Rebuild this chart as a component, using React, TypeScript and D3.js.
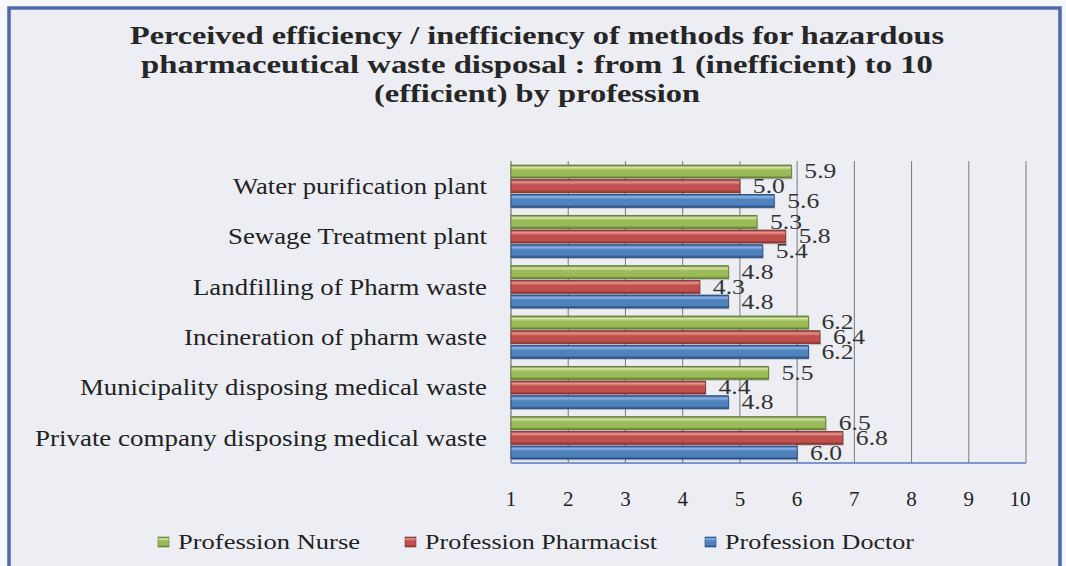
import React from 'react';
import * as d3 from 'd3';

const categories = [
  'Water purification plant',
  'Sewage Treatment plant',
  'Landfilling of Pharm waste',
  'Incineration of pharm waste',
  'Municipality disposing medical waste',
  'Private company disposing medical waste',
];
const seriesNames = ['Profession Nurse', 'Profession Pharmacist', 'Profession Doctor'];
const nurse = [5.9, 5.3, 4.8, 6.2, 5.5, 6.5];
const pharmacist = [5.0, 5.8, 4.3, 6.4, 4.4, 6.8];
const doctor = [5.6, 5.4, 4.8, 6.2, 4.8, 6.0];
const ticks = [1, 2, 3, 4, 5, 6, 7, 8, 9, 10];
const titleLines = [
  'Perceived efficiency / inefficiency of methods for hazardous',
  'pharmaceutical waste disposal : from 1 (inefficient) to  10',
  '(efficient) by profession',
];

const values = [nurse, pharmacist, doctor];
// [light, base, dark] per series
const colors = [
  ['#d6e6a6', '#9bbb59', '#5f7a2a'],
  ['#e8958f', '#c0504d', '#82302d'],
  ['#8fb4e6', '#4f81bd', '#23497f'],
];

const W = 1066, H = 566;
const font = "'Liberation Serif', 'DejaVu Serif', serif";

const titleW = [814, 792, 326];
const catW = [254, 259, 294, 303, 407, 452];
const legendW = [182, 232, 189];
const legendX = [158, 405, 705];

export default function App() {
  const x = d3.scaleLinear().domain([1, 10]).range([511, 1026]);
  const y = d3.scaleBand<string>().domain(categories).range([161, 463])
    .paddingInner(0.16).paddingOuter(0.08);
  const yi = d3.scaleBand<string>().domain(seriesNames).range([0, y.bandwidth()])
    .paddingInner(0.12);

  return (
    <svg width={W} height={H} style={{ position: 'absolute', left: 0, top: 0 }}>
      <defs>
        {colors.map((c, i) => (
          <linearGradient key={i} id={'bar' + i} x1="0" y1="0" x2="0" y2="1">
            <stop offset="0" stopColor={c[2]} />
            <stop offset="0.18" stopColor={c[0]} />
            <stop offset="0.4" stopColor={c[1]} />
            <stop offset="0.8" stopColor={c[1]} />
            <stop offset="1" stopColor={c[2]} />
          </linearGradient>
        ))}
      </defs>
      <rect x={0} y={0} width={W} height={H} fill="#f6f7fa" />
      <rect x={9} y={8} width={1051} height={H + 10} fill="#eceef4" stroke="#4d68ad" strokeWidth={3.5} />

      {titleLines.map((t, i) => (
        <text key={i} x={537} y={44 + i * 29} textAnchor="middle" fontFamily={font}
          fontWeight="bold" fontSize={26} fill="#262626"
          textLength={titleW[i]} lengthAdjust="spacingAndGlyphs">{t}</text>
      ))}

      {/* gridlines */}
      {ticks.slice(1).map(t => (
        <line key={t} x1={x(t)} x2={x(t)} y1={161} y2={463} stroke="#7a7a7a" strokeWidth={1} />
      ))}
      <line x1={x(1)} x2={x(1)} y1={161} y2={463} stroke="#8a8a8a" strokeWidth={1.5} />

      {/* bars */}
      {categories.map((cat, ci) => (
        <g key={cat} transform={`translate(0,${y(cat)})`}>
          {seriesNames.map((s, si) => {
            const v = values[si][ci];
            const by = yi(s) as number;
            const bh = yi.bandwidth();
            return (
              <g key={s}>
                <rect x={x(1) + 1} y={by + 1.5} width={x(v) - x(1)} height={bh} fill="#000" opacity={0.18} />
                <rect x={x(1)} y={by} width={x(v) - x(1)} height={bh} fill={`url(#bar${si})`}
                  stroke={colors[si][2]} strokeWidth={0.8} />
                <text x={x(v) + 13} y={by + bh / 2 + 7} fontFamily={font} fontSize={21} fill="#333"
                  textLength={32} lengthAdjust="spacingAndGlyphs">
                  {v.toFixed(1)}
                </text>
              </g>
            );
          })}
          <text x={487} y={(y.bandwidth() / 2) + 8} textAnchor="end" fontFamily={font}
            fontSize={23} fill="#222" textLength={catW[ci]} lengthAdjust="spacingAndGlyphs">{cat}</text>
        </g>
      ))}

      <line x1={x(1)} x2={x(10)} y1={463} y2={463} stroke="#5a78c0" strokeWidth={1.5} />

      {ticks.map(t => (
        <text key={t} x={x(t) - (t === 10 ? 6 : 0)} y={506} textAnchor="middle" fontFamily={font}
          fontSize={21} fill="#222">{t}</text>
      ))}

      {seriesNames.map((s, si) => (
        <g key={s} transform={`translate(${legendX[si]},549)`}>
          <rect x={0} y={-12} width={11} height={10} fill={`url(#bar${si})`} stroke={colors[si][2]} strokeWidth={0.6} />
          <text x={20} y={0} fontFamily={font} fontSize={22} fill="#222"
            textLength={legendW[si]} lengthAdjust="spacingAndGlyphs">{s}</text>
        </g>
      ))}
    </svg>
  );
}
